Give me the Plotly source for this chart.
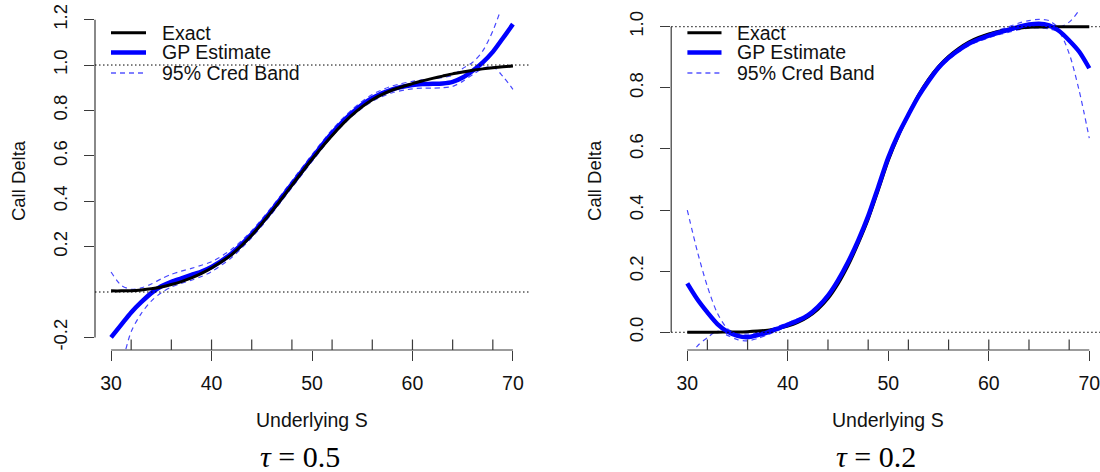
import plotly.graph_objects as go

W, H = 1100, 472

# ---------------- data ----------------
s_left = [30, 31, 32, 33, 34, 35, 36, 37, 38, 39, 40, 42, 44, 46, 48, 50,
          52, 54, 56, 58, 60, 61, 62, 63, 64, 65, 66, 67, 68, 69, 70]
exact_left = [0.005, 0.005, 0.006, 0.009, 0.014, 0.022, 0.033, 0.046, 0.062, 0.082, 0.106,
              0.165, 0.25, 0.355, 0.47, 0.585, 0.69, 0.78, 0.847, 0.89, 0.918, 0.93,
              0.941, 0.951, 0.961, 0.969, 0.977, 0.983, 0.988, 0.992, 0.996]
gp_left = [-0.20, -0.145, -0.09, -0.045, -0.005, 0.025, 0.045, 0.06, 0.075, 0.09, 0.11,
           0.17, 0.255, 0.36, 0.475, 0.59, 0.70, 0.79, 0.855, 0.893, 0.912, 0.916,
           0.917, 0.919, 0.926, 0.945, 0.975, 1.012, 1.058, 1.118, 1.18]
upper_left = [0.088, 0.03, 0.012, 0.018, 0.035, 0.058, 0.078, 0.092, 0.104, 0.118, 0.133,
              0.188, 0.27, 0.375, 0.49, 0.605, 0.715, 0.805, 0.87, 0.908, 0.928, 0.935,
              0.94, 0.945, 0.955, 0.985, 1.012, 1.062, 1.15, 1.27, 1.40]
lower_left = [-0.48, -0.33, -0.175, -0.095, -0.04, -0.003, 0.022, 0.038, 0.052, 0.068, 0.09,
              0.152, 0.24, 0.345, 0.46, 0.575, 0.685, 0.775, 0.84, 0.878, 0.895, 0.898,
              0.898, 0.9, 0.906, 0.928, 0.958, 0.985, 0.992, 0.95, 0.893]

s_right = [30, 31, 32, 33, 34, 35, 36, 37, 38, 39, 40, 41, 42, 43, 44, 45, 46, 47, 48, 49, 50,
           51, 52, 53, 54, 55, 56, 57, 58, 59, 60, 61, 62, 63, 64, 65, 66, 67, 68, 69, 70]
exact_right = [0.0, 0.0, 0.0, 0.0, 0.001, 0.001, 0.002, 0.004, 0.007, 0.012, 0.02,
               0.032, 0.05, 0.075, 0.11, 0.158, 0.218, 0.29, 0.37, 0.465, 0.562,
               0.643, 0.712, 0.776, 0.828, 0.87, 0.903, 0.929, 0.95, 0.965, 0.976,
               0.985, 0.991, 0.995, 0.998, 0.999, 1.0, 1.0, 1.0, 1.0, 1.0]
gp_right = [0.16, 0.108, 0.065, 0.027, 0.002, -0.012, -0.016, -0.009, 0.0, 0.012, 0.025,
            0.038, 0.055, 0.083, 0.12, 0.17, 0.23, 0.30, 0.38, 0.475, 0.572,
            0.648, 0.712, 0.772, 0.822, 0.866, 0.898, 0.923, 0.944, 0.959, 0.971,
            0.981, 0.99, 1.0, 1.007, 1.01, 1.004, 0.986, 0.955, 0.918, 0.864]
upper_right = [0.40, 0.265, 0.15, 0.062, 0.012, -0.004, -0.006, 0.0, 0.008, 0.019, 0.031,
               0.044, 0.061, 0.089, 0.126, 0.176, 0.236, 0.306, 0.386, 0.481, 0.578,
               0.654, 0.718, 0.778, 0.828, 0.872, 0.904, 0.929, 0.95, 0.966, 0.978,
               0.989, 1.0, 1.012, 1.02, 1.024, 1.02, 1.0, 1.015, 1.055, 1.12]
lower_right = [-0.10, -0.045, -0.018, 0.004, -0.01, -0.024, -0.028, -0.02, -0.008, 0.006, 0.019,
               0.032, 0.049, 0.077, 0.114, 0.164, 0.224, 0.294, 0.374, 0.469, 0.566,
               0.642, 0.706, 0.766, 0.816, 0.86, 0.892, 0.917, 0.938, 0.952, 0.964,
               0.974, 0.982, 0.99, 0.995, 0.996, 0.993, 0.982, 0.912, 0.79, 0.635]

design_points = [32, 36, 40, 44, 48, 52, 56, 60, 64, 68]
x_ticks = [30, 40, 50, 60, 70]
y_ticks_left = [-0.2, 0.2, 0.4, 0.6, 0.8, 1.0, 1.2]
y_ticks_right = [0.0, 0.2, 0.4, 0.6, 0.8, 1.0]
ref_levels = [0, 1]
legend_labels = ["Exact", "GP Estimate", "95% Cred Band"]
panel_labels = ["<i>τ</i> = 0.5", "<i>τ</i> = 0.2"]
x_title = "Underlying S"
y_title = "Call Delta"

# ---------------- styles ----------------
FONT = "Liberation Sans, Arial, sans-serif"
BLUE = "#0000ff"
BAND = "rgba(0,0,255,0.72)"
AX = "#3a3a3a"


def PX(px):  # window pixel -> paper x
    return px / W


def PY(py):  # window pixel -> paper y
    return 1 - py / H


fig = go.Figure()


def band(x, y, xa, ya):
    fig.add_trace(go.Scatter(x=x, y=y, mode="lines", xaxis=xa, yaxis=ya, showlegend=False,
                             line=dict(color=BAND, width=1.2, dash="5px,4px", shape="spline",
                                       smoothing=0.8)))


def main(x, y, xa, ya, color, width):
    fig.add_trace(go.Scatter(x=x, y=y, mode="lines", xaxis=xa, yaxis=ya, showlegend=False,
                             line=dict(color=color, width=width, shape="spline", smoothing=0.8)))


# left panel: bands, GP, exact on top
band(s_left, upper_left, "x", "y")
band(s_left, lower_left, "x", "y")
main(s_left, gp_left, "x", "y", BLUE, 4.5)
main(s_left, exact_left, "x", "y", "black", 3)
# right panel: bands, exact, GP on top
band(s_right, upper_right, "x2", "y2")
band(s_right, lower_right, "x2", "y2")
main(s_right, exact_right, "x2", "y2", "black", 3)
main(s_right, gp_right, "x2", "y2", BLUE, 4.5)

# ---------------- layout geometry ----------------
ydom = [PY(350), PY(11)]
xdom_l = [PX(95), PX(529)]
xdom_r = [PX(671.2), 1.0]


def xaxis(dom, rng, anchor):
    return dict(domain=dom, range=rng, anchor=anchor, showgrid=False, zeroline=False,
                showline=False, automargin=False, tickmode="array", tickvals=x_ticks,
                ticktext=[str(v) for v in x_ticks], ticks="outside", ticklen=10,
                tickwidth=1, tickcolor=AX, ticklabelstandoff=6, ticklabeloverflow="allow",
                tickfont=dict(family=FONT, size=19.5, color="#111"))


def yaxis(rng, ticks, anchor):
    return dict(domain=ydom, range=rng, anchor=anchor, showgrid=False, zeroline=False,
                showline=False, automargin=False, tickmode="array", tickvals=ticks,
                ticktext=["%.1f" % v for v in ticks], ticks="outside", ticklen=10,
                tickwidth=1, tickcolor=AX, tickangle=-90, ticklabelstandoff=10,
                ticklabeloverflow="allow",
                tickfont=dict(family=FONT, size=18.5, color="#111"))


shapes = []
annotations = []
for xr, yr, xt, yt in [("x", "y", x_ticks, y_ticks_left), ("x2", "y2", x_ticks, y_ticks_right)]:
    # axis lines spanning first..last tick (R style)
    shapes.append(dict(type="line", xref=xr, yref=yr + " domain", x0=xt[0], x1=xt[-1], y0=0, y1=0,
                       line=dict(color=AX, width=1.2)))
    shapes.append(dict(type="line", xref=xr + " domain", yref=yr, x0=0, x1=0, y0=yt[0], y1=yt[-1],
                       line=dict(color=AX, width=1.2)))
    # reference levels (dotted)
    for lv in ref_levels:
        shapes.append(dict(type="line", xref=xr + " domain", yref=yr, x0=0, x1=1, y0=lv, y1=lv,
                           line=dict(color="black", width=1, dash="1.5px,2.5px")))
    # rug of design points
    for d in design_points:
        shapes.append(dict(type="line", xref=xr, yref=yr + " domain", x0=d, x1=d, y0=0,
                           y1=10.5 / 339, line=dict(color=AX, width=1.2)))

# legends (one per panel)
rows = [32.7, 52.5, 73.0]
leg_styles = [dict(color="black", width=3), dict(color=BLUE, width=4.5),
              dict(color=BLUE, width=1.2, dash="5px,4px")]
for x0, x1, xt in [(111, 146, 160.5), (687.4, 721.5, 736)]:
    for r, lab, st in zip(rows, legend_labels, leg_styles):
        shapes.append(dict(type="line", xref="paper", yref="paper", x0=PX(x0), x1=PX(x1),
                           y0=PY(r), y1=PY(r), line=st))
        annotations.append(dict(text=lab, xref="paper", yref="paper", x=PX(xt), y=PY(r),
                                xanchor="left", yanchor="middle", showarrow=False,
                                height=18, borderpad=0, valign="middle",
                                font=dict(family=FONT, size=19.5, color="#111")))

# axis titles and panel labels
for cx, cyl in [(311.7, 18.6), (888.3, 594.4)]:
    annotations.append(dict(text=x_title, xref="paper", yref="paper", x=PX(cx), y=PY(420),
                            xanchor="center", yanchor="middle", showarrow=False,
                            font=dict(family=FONT, size=19.5, color="#111")))
    annotations.append(dict(text=y_title, xref="paper", yref="paper", x=PX(cyl), y=PY(180.5),
                            xanchor="center", yanchor="middle", showarrow=False, textangle=-90,
                            font=dict(family=FONT, size=18.5, color="#111")))
for cx, lab in zip([299.5, 876], panel_labels):
    annotations.append(dict(text=lab, xref="paper", yref="paper", x=PX(cx), y=PY(456),
                            xanchor="center", yanchor="middle", showarrow=False,
                            font=dict(family="Liberation Serif, DejaVu Serif, serif", size=30,
                                      color="black")))

fig.update_layout(
    width=W, height=H, margin=dict(l=0, r=0, t=0, b=0, autoexpand=False),
    paper_bgcolor="white", plot_bgcolor="white", showlegend=False,
    xaxis=xaxis(xdom_l, [28.4, 71.6], "y"),
    yaxis=yaxis([-0.2555, 1.238], y_ticks_left, "x"),
    xaxis2=xaxis(xdom_r, [28.4, 28.4 + (1100 - 671.2) / 10.05], "y2"),
    yaxis2=yaxis([-0.058, 1.0514], y_ticks_right, "x2"),
    shapes=shapes, annotations=annotations,
)

# remove the page's default body margin so the 1100x472 figure fills the window exactly
fig.write_html("out.html", config={"displayModeBar": False},
               post_script="document.body.style.margin='0px';document.body.style.overflow='hidden';")
